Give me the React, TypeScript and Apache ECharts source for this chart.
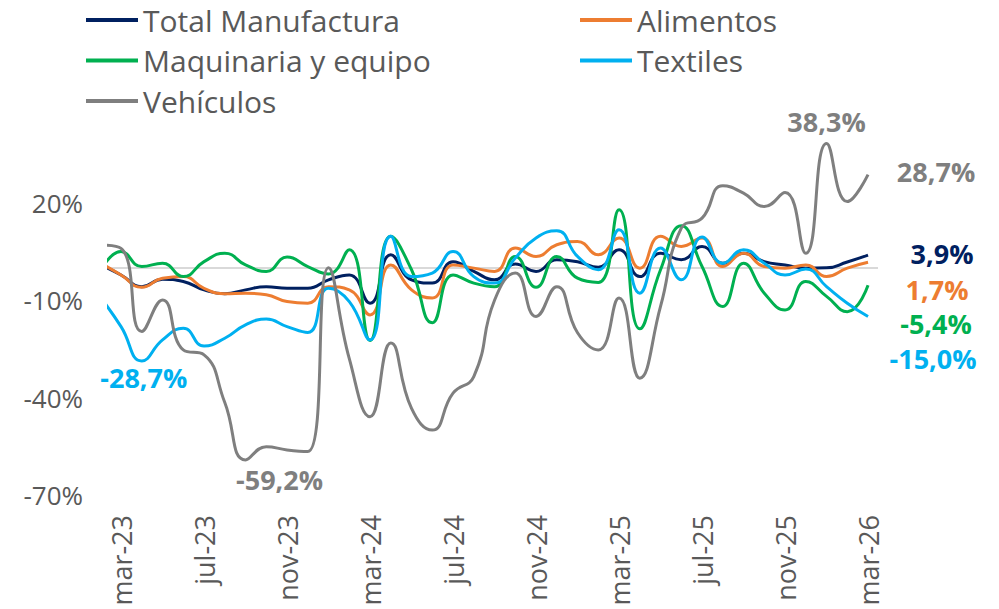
import React, { useEffect, useRef } from 'react';
import * as echarts from 'echarts';

const months = [
  'feb-23', 'mar-23', 'abr-23', 'may-23', 'jun-23', 'jul-23', 'ago-23', 'sep-23', 'oct-23', 'nov-23', 'dic-23',
  'ene-24', 'feb-24', 'mar-24', 'abr-24', 'may-24', 'jun-24', 'jul-24', 'ago-24', 'sep-24', 'oct-24', 'nov-24', 'dic-24',
  'ene-25', 'feb-25', 'mar-25', 'abr-25', 'may-25', 'jun-25', 'jul-25', 'ago-25', 'sep-25', 'oct-25', 'nov-25', 'dic-25',
  'ene-26', 'feb-26', 'mar-26',
];

const totalManufactura = [1.0, -2.2, -5.8, -3.5, -4.2, -6.8, -8.0, -6.8, -5.8, -6.3, -6.3, -3.7, -2.2, -10.9, 4.0, -3.7, -4.7, 1.9, -1.1, -3.7, 1.2, -1.1, 2.5, 1.9, 0.2, 5.6, -2.7, 4.5, 2.5, 6.6, 1.4, 4.5, 1.9, 0.9, -0.1, 0.0, 1.8, 3.9];
const alimentos = [1.5, -2.2, -6.0, -3.2, -2.7, -6.3, -8.0, -7.8, -8.3, -10.4, -10.9, -5.8, -6.8, -14.5, 0.9, -6.8, -9.3, 0.9, -0.1, -1.1, 6.1, 3.5, 7.1, 8.1, 4.0, 9.2, -0.1, 9.7, 6.6, 9.2, 0.4, 4.5, 0.4, -0.1, 0.9, -2.7, -0.1, 1.7];
const maquinaria = [-1.0, 5.0, 0.4, 1.4, -2.7, 1.9, 4.5, 0.9, -1.1, 3.3, 0.4, -1.9, 5.6, -22.4, 9.7, -0.6, -16.9, -2.2, -4.7, -5.8, 3.5, -6.0, 3.5, -3.2, -4.5, 17.9, -18.8, -0.6, 13.0, 0.4, -11.9, 1.4, -7.8, -13.0, -4.2, -8.8, -13.5, -5.4];
const textiles = [-9.0, -18.1, -28.7, -22.2, -18.6, -24.1, -21.7, -17.6, -15.8, -18.1, -19.9, -6.3, -10.4, -22.2, 9.7, -2.7, -1.6, 5.0, -2.7, -4.7, 3.0, 9.2, 11.4, 3.5, -0.6, 11.7, -7.8, 6.1, -3.7, 9.5, 1.4, 5.6, 1.4, -2.2, -0.4, -5.8, -10.9, -15.0];
const vehiculos = [7.0, 6.0, -19.6, -9.9, -25.3, -26.8, -41.5, -59.2, -55.1, -56.1, -56.6, 0.0, -28.0, -45.9, -23.2, -43.3, -50.0, -38.6, -33.5, -10.0, -1.6, -15.0, -5.8, -20.0, -25.3, -9.3, -34.0, -11.9, 12.2, 15.3, 25.3, 23.0, 18.9, 23.2, 4.5, 38.3, 20.4, 28.7];

const seriesNames = ['Total Manufactura', 'Alimentos', 'Maquinaria y equipo', 'Textiles', 'Vehículos'];
const seriesColors = ['#002060', '#ED7D31', '#00B050', '#00B0F0', '#7F7F7F'];

const yTickValues = [-70, -40, -10, 20];
const xLabelIndices = [1, 5, 9, 13, 17, 21, 25, 29, 33, 37];

const FONT = 'Open Sans';
const TEXT_GRAY = '#595959';

const fmt = (v: number) => v.toFixed(1).replace('.', ',') + '%';

// label positions (index -> offset of label centre from the point)
const labelSpecs: Record<string, Record<number, [number, number]>> = {
  'Total Manufactura': { 37: [74, -2] },
  'Alimentos': { 37: [69, 27] },
  'Maquinaria y equipo': { 37: [68, 38] },
  'Textiles': { 2: [2, 17], 37: [65, 42] },
  'Vehículos': { 7: [34, 20], 35: [0, -22], 37: [68, -3] },
};

function buildData(name: string, values: number[], color: string) {
  const specs = labelSpecs[name] || {};
  return values.map((v, i) => {
    const off = specs[i];
    if (!off) return { value: [i, v] };
    return {
      value: [i, v],
      label: {
        show: true,
        position: off,
        align: 'center',
        verticalAlign: 'middle',
        color,
        fontFamily: FONT,
        fontWeight: 'bold',
        fontSize: 27,
        lineHeight: 26,
        formatter: () => fmt(v),
      },
    };
  });
}

export default function App() {
  const ref = useRef<HTMLDivElement>(null);

  useEffect(() => {
    if (!ref.current) return;
    const chart = echarts.init(ref.current, undefined, { renderer: 'svg' });
    const allValues = [totalManufactura, alimentos, maquinaria, textiles, vehiculos];

    const series: any[] = seriesNames.map((name, k) => ({
      name,
      type: 'line',
      data: buildData(name, allValues[k], seriesColors[k]),
      smooth: 0.5,
      symbol: 'circle',
      symbolSize: 0,
      showSymbol: true,
      showAllSymbol: true,
      label: { show: false },
      labelLayout: { hideOverlap: false },
      lineStyle: { width: 3, color: seriesColors[k] },
      itemStyle: { color: seriesColors[k] },
      clip: true,
      z: 2 + k,
    }));
    series[0].markLine = {
      silent: true,
      symbol: 'none',
      label: { show: false },
      lineStyle: { color: '#D9D9D9', width: 2, type: 'solid' },
      data: [{ yAxis: 0 }],
      z: 1,
    };

    chart.setOption({
      animation: false,
      backgroundColor: '#ffffff',
      textStyle: { fontFamily: FONT },
      grid: { left: 109, right: 121, top: 138, bottom: 114, containLabel: false },
      legend: [
        {
          data: ['Total Manufactura', 'Maquinaria y equipo', 'Vehículos'],
          orient: 'vertical',
          left: 86,
          top: 5,
          padding: 0,
          itemGap: 10.5,
          icon: 'rect',
          itemWidth: 52,
          itemHeight: 4,
          textStyle: { fontFamily: FONT, fontSize: 30, color: TEXT_GRAY, lineHeight: 30 },
        },
        {
          data: ['Alimentos', 'Textiles'],
          orient: 'vertical',
          left: 580,
          top: 5,
          padding: 0,
          itemGap: 10.5,
          icon: 'rect',
          itemWidth: 52,
          itemHeight: 4,
          textStyle: { fontFamily: FONT, fontSize: 30, color: TEXT_GRAY, lineHeight: 30 },
        },
      ],
      xAxis: {
        type: 'value',
        min: 0.42,
        max: 37.48,
        axisLine: { show: false },
        axisTick: { show: false },
        splitLine: { show: false },
        axisLabel: {
          customValues: xLabelIndices,
          formatter: (v: number) => months[Math.round(v)] ?? '',
          rotate: 90,
          margin: 20,
          fontFamily: FONT,
          fontSize: 27,
          color: TEXT_GRAY,
        },
      },
      yAxis: {
        type: 'value',
        min: -70,
        max: 40,
        interval: 30,
        axisLine: { show: false },
        axisTick: { show: false },
        splitLine: { show: false },
        axisLabel: {
          customValues: yTickValues,
          formatter: (v: number) => (yTickValues.includes(v) ? v + '%' : ''),
          margin: 26,
          fontFamily: FONT,
          fontSize: 26,
          color: TEXT_GRAY,
        },
      },
      series,
    });
    return () => chart.dispose();
  }, []);

  return (
    <div
      ref={ref}
      style={{ position: 'fixed', left: 0, top: 0, width: 999, height: 609, background: '#fff' }}
    />
  );
}
